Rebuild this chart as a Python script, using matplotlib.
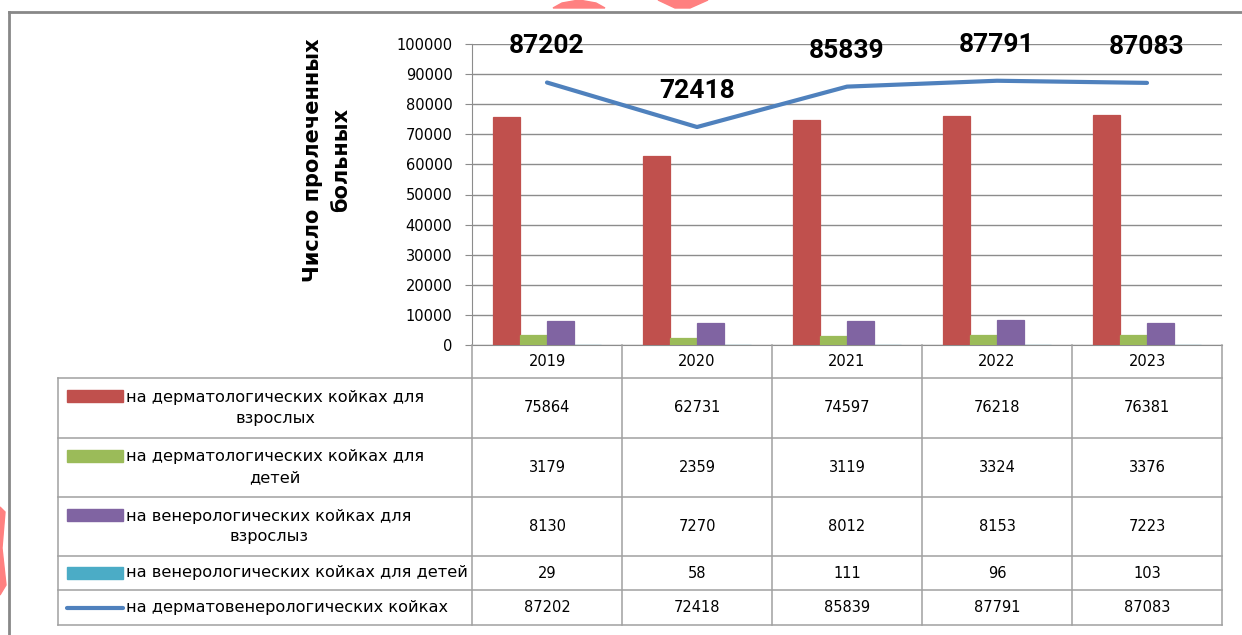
import matplotlib.pyplot as plt
import matplotlib.transforms as mtransforms
from matplotlib.patches import Polygon, Rectangle
import numpy as np

years = ["2019", "2020", "2021", "2022", "2023"]
derm_adults = [75864, 62731, 74597, 76218, 76381]
derm_children = [3179, 2359, 3119, 3324, 3376]
vener_adults = [8130, 7270, 8012, 8153, 7223]
vener_children = [29, 58, 111, 96, 103]
total = [87202, 72418, 85839, 87791, 87083]

bar_series = [derm_adults, derm_children, vener_adults, vener_children]
bar_colors = ["#C0504D", "#9BBB59", "#8064A2", "#4BACC6"]
line_color = "#4F81BD"
row_labels = [
    "на дерматологических койках для\nвзрослых",
    "на дерматологических койках для\nдетей",
    "на венерологических койках для\nвзрослыз",
    "на венерологических койках для детей",
    "на дерматовенерологических койках",
]

W, H = 1242, 635
grid_c = "#8c8c8c"
tab_c = "#a0a0a0"

fig = plt.figure(figsize=(W / 100, H / 100), dpi=100)
fig.patch.set_facecolor("white")

# main plot area
ax = fig.add_axes([472 / W, 1 - 345 / H, 750 / W, 301 / H])
x = np.arange(len(years))
bw = 0.18
for k, (vals, c) in enumerate(zip(bar_series, bar_colors)):
    ax.bar(x + (k - 1.5) * bw, vals, width=bw, color=c, edgecolor=c,
           lw=0.9, zorder=3)
ax.plot(x, total, color=line_color, lw=3, zorder=4, solid_capstyle="round")
for xi, v in zip(x, total):
    ax.annotate(str(v), (xi, v), xytext=(0, 26), textcoords="offset points",
                ha="center", va="center", fontsize=19, fontweight="bold",
                family=["Roboto", "DejaVu Sans"])

ax.set_xlim(-0.5, 4.5)
ax.set_ylim(0, 100000)
ax.set_yticks(np.arange(0, 100001, 10000))
ax.set_xticks([])
ax.yaxis.grid(True, color=grid_c, lw=1)
ax.set_axisbelow(True)
for s in ["top", "right"]:
    ax.spines[s].set_visible(False)
ax.spines["left"].set_color(grid_c)
ax.spines["bottom"].set_color(grid_c)
ax.tick_params(axis="y", direction="out", length=5, color=grid_c,
               labelsize=10.5, pad=9)

fig.text(327 / W, 1 - 160 / H, "Число пролеченных\nбольных", rotation=90,
         ha="center", va="center", fontsize=15, fontweight="bold",
         linespacing=1.5)

# data table
tab = fig.add_axes([58 / W, 1 - 625 / H, (1222 - 58) / W, 280 / H])
tab.set_xlim(58, 1222)
tab.set_ylim(625, 345)
tab.axis("off")
tr = mtransforms.blended_transform_factory(ax.transData, tab.transData)

rows = [345, 378, 438, 497, 556, 590, 625]
for yb in rows[1:]:
    tab.plot([58, 1222], [yb, yb], color=tab_c, lw=1.1, clip_on=False)
tab.plot([58, 58], [378, 625], color=tab_c, lw=1.1, clip_on=False)
for i in range(len(years) + 1):
    tab.plot([i - 0.5, i - 0.5], [345, 625], color=tab_c, lw=1.1,
             transform=tr, clip_on=False)

for i, yr in enumerate(years):
    tab.text(i, (rows[0] + rows[1]) / 2, yr, transform=tr, ha="center",
             va="center", fontsize=10.5)

table_series = bar_series + [total]
for r, (lab, vals) in enumerate(zip(row_labels, table_series)):
    yc = (rows[r + 1] + rows[r + 2]) / 2
    two = "\n" in lab
    ky = yc - 12 if two else yc
    if r < 4:
        tab.add_patch(Rectangle((67, ky - 6), 56, 12, color=bar_colors[r]))
    else:
        tab.plot([67, 123], [ky, ky], color=line_color, lw=3,
                 solid_capstyle="round")
    tab.text(126, yc, lab, ha="left", va="center", fontsize=11.6,
             multialignment="center", linespacing=1.5)
    for i, v in enumerate(vals):
        tab.text(i, yc, str(v), transform=tr, ha="center", va="center",
                 fontsize=10.5)

# outer frame (top and left edges only are visible)
fig.add_artist(plt.Line2D([9 / W, 1], [1 - 12 / H, 1 - 12 / H],
                          color="#888888", lw=2, transform=fig.transFigure))
fig.add_artist(plt.Line2D([9 / W, 9 / W], [0, 1 - 12 / H],
                          color="#888888", lw=2, transform=fig.transFigure))

# red edge decorations
deco = "#ff8080"
for pts in [
    [(553, 8), (562, 3), (579, 0), (596, 3), (605, 8)],
    [(658, 0), (708, 0), (690, 8), (675, 8)],
    [(0, 507), (5, 512), (2, 548), (6, 585), (0, 595)],
]:
    fig.add_artist(Polygon([(px / W, 1 - py / H) for px, py in pts],
                           closed=True, color=deco, transform=fig.transFigure))

fig.savefig("out.png", dpi=100, facecolor="white")
